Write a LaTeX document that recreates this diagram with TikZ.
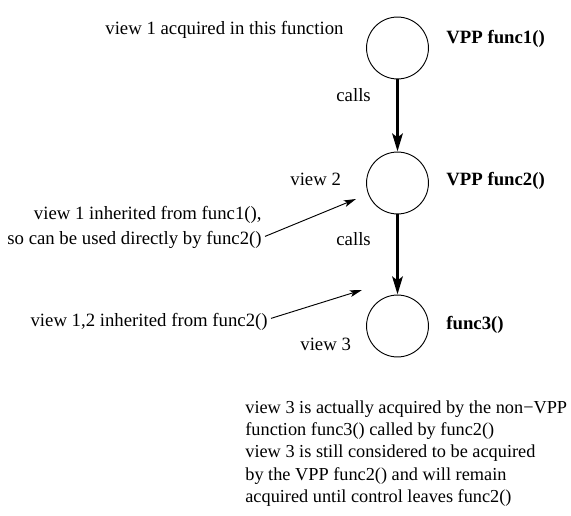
\documentclass[tikz,border=0pt]{standalone}
\usepackage{fontspec}
\setmainfont{Liberation Serif}
\usetikzlibrary{arrows.meta}
\begin{document}
\begin{tikzpicture}[x=0.533pt,y=-0.533pt,
  font=\fontsize{10pt}{11.9pt}\selectfont,
  fn/.style={circle,draw,line width=0.5pt,minimum size=33pt,inner sep=0pt},
  txt/.style={inner sep=0pt,anchor=base west},
  fname/.style={txt,font=\fontsize{10pt}{12pt}\selectfont\bfseries},
  callarrow/.style={line width=2pt,-{Stealth[length=9.5pt,width=5.5pt,inset=2pt]}},
  noteArrow/.style={line width=0.5pt,-{Stealth[length=6.5pt,width=3.6pt,inset=1.5pt]}}]
\useasboundingbox (0,0) rectangle (571,516);

% the three functions
\node[fn] (f1) at (397.5,48) {};
\node[fn] (f2) at (397.5,183) {};
\node[fn] (f3) at (397.5,326) {};

% function names
\node[fname] (n1) at (446,44) {VPP func1()};
\node[fname] (n2) at (446,186) {VPP func2()};
\node[fname] (n3) at (446,330) {func3()};

% calls
\draw[callarrow] (f1) -- (f2);
\draw[callarrow] (f2) -- (f3);
\node[txt] (c1) at (336,102) {calls};
\node[txt] (c2) at (336,246) {calls};

% view labels
\node[txt] (v1) at (105,35) {view 1 acquired in this function};
\node[txt] (v2) at (290,186) {view 2};
\node[txt] (v3) at (300,351) {view 3};

% inherited views
\node[inner sep=0pt,anchor=base east] (i1) at (262,220) {view 1 inherited from func1(),};
\node[inner sep=0pt,anchor=base east] (i2) at (262,245) {so can be used directly by func2()};
\coordinate (a1) at (356,199);
\draw[noteArrow] (i2.east) ++(3,-4) coordinate (s1) -- (a1);

\node[inner sep=0pt,anchor=base east] (i3) at (268,327) {view 1,2 inherited from func2()};
\coordinate (a2) at (362,290);
\draw[noteArrow] (i3.east) ++(3,-4) coordinate (s2) -- (a2);

% explanation
\node[inner sep=0pt,anchor=north west,align=left,
      font=\fontsize{9.75pt}{11.9pt}\selectfont] (expl) at (245,400)
  {view 3 is actually acquired by the non\textminus VPP\\
   function func3() called by func2()\\
   view 3 is still considered to be acquired\\
   by the VPP func2() and will remain\\
   acquired until control leaves func2()};
\end{tikzpicture}
\end{document}
